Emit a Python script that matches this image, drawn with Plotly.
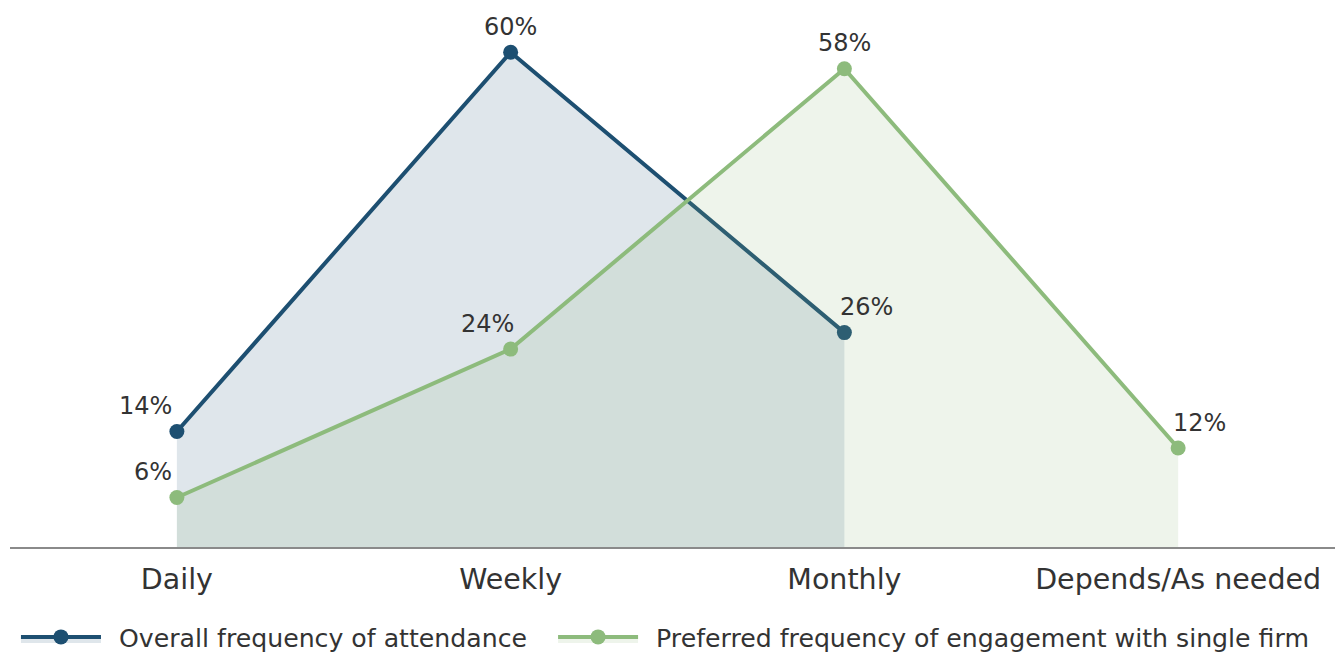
import plotly.graph_objects as go

categories = ["Daily", "Weekly", "Monthly", "Depends/As needed"]
overall_cats = ["Daily", "Weekly", "Monthly"]
overall_vals = [14, 60, 26]
preferred_cats = ["Daily", "Weekly", "Monthly", "Depends/As needed"]
preferred_vals = [6, 24, 58, 12]
overall_name = "Overall frequency of attendance"
preferred_name = "Preferred frequency of engagement with single firm"

# label placement (style only): (xanchor, xshift in px)
overall_label_place = [("right", -3), ("center", 0), ("left", -6)]
preferred_label_place = [("right", -3), ("right", 5), ("center", 0), ("left", -7)]

BLUE = "#1d4f71"
GREEN = "#8dbb7c"
FONT = "DejaVu Sans"
NB = "\u00a0"
THIN = "\u2009"
LEAD = NB + THIN

fig = go.Figure()
fig.add_trace(go.Scatter(
    x=overall_cats, y=overall_vals, name=LEAD + overall_name + NB * 2 + THIN,
    mode="lines+markers", fill="tozeroy",
    fillcolor="rgba(31,78,115,0.14)",
    line=dict(color=BLUE, width=4), marker=dict(size=15, color=BLUE),
    cliponaxis=False,
))
fig.add_trace(go.Scatter(
    x=preferred_cats, y=preferred_vals, name=LEAD + preferred_name,
    mode="lines+markers", fill="tozeroy",
    fillcolor="rgba(141,184,122,0.15)",
    line=dict(color=GREEN, width=4), marker=dict(size=15, color=GREEN),
    cliponaxis=False,
))

for cats, vals, places in [(overall_cats, overall_vals, overall_label_place),
                           (preferred_cats, preferred_vals, preferred_label_place)]:
    for c, v, (anc, xs) in zip(cats, vals, places):
        fig.add_annotation(
            x=c, y=v, text=f"{v}%", showarrow=False,
            xanchor=anc, yanchor="middle", xshift=xs, yshift=25.5,
            font=dict(size=24, color="#333333", family=FONT),
        )

fig.update_layout(
    width=1335, height=652,
    margin=dict(l=10, r=0, t=11, b=105, autoexpand=False),
    paper_bgcolor="white", plot_bgcolor="white",
    font=dict(family=FONT, color="#333333"),
    xaxis=dict(
        type="category", categoryorder="array", categoryarray=categories,
        range=[-0.5, 3.47], showgrid=False, zeroline=False,
        showline=True, linecolor="#8a8a8a", linewidth=2,
        ticks="", ticklabelstandoff=6,
        tickfont=dict(size=28.5, color="#333333", family=FONT),
    ),
    yaxis=dict(range=[0, 65], visible=False, showgrid=False, zeroline=False),
    showlegend=True,
    legend=dict(
        orientation="h", x=0.0045, xanchor="left", y=-0.168, yanchor="middle",
        font=dict(size=25.2, color="#333333", family=FONT),
        itemwidth=80, traceorder="normal",
    ),
)
fig.write_html(
    "out.html",
    config={"displayModeBar": False},
    post_script="document.body.style.margin='0px';document.body.style.overflow='hidden';",
)
